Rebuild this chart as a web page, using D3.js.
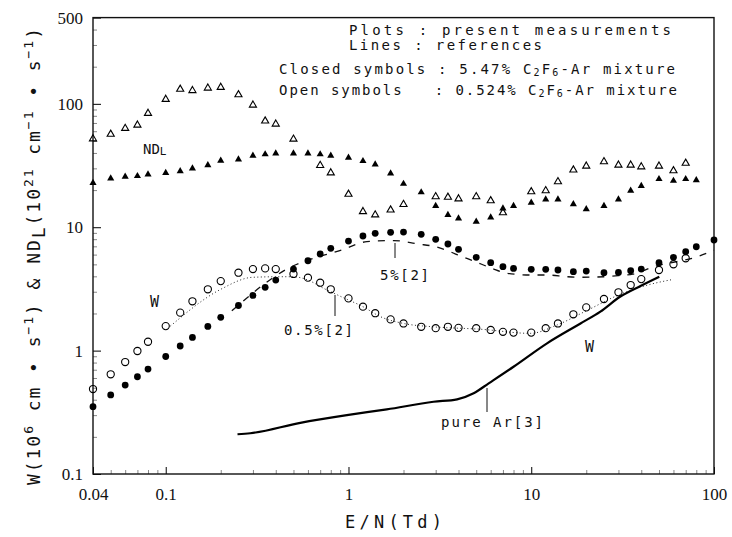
<!DOCTYPE html>
<html>
<head>
<meta charset="utf-8">
<script src="https://cdn.jsdelivr.net/npm/d3@7"></script>
<style>
  body { margin: 0; background: #fff; }
  text { fill: #111; white-space: pre; }
</style>
</head>
<body>
<svg></svg>
<script>
// E/N values (Td) for the measured points
const enAll = [0.04, 0.05, 0.06, 0.07, 0.08, 0.1, 0.12, 0.14, 0.17, 0.2, 0.25, 0.3, 0.35, 0.4, 0.5, 0.6, 0.7, 0.8,
  1, 1.2, 1.4, 1.7, 2, 2.5, 3, 3.5, 4, 5, 6, 7, 8, 10, 12, 14, 17, 20, 25, 30, 35, 40, 50, 60, 70, 80, 100];

// W, 5.47% mixture (closed circles)
const wClosed = [0.351, 0.437, 0.526, 0.614, 0.709, 0.896, 1.09, 1.28, 1.57, 1.86, 2.32, 2.80, 3.26, 3.73, 4.58, 5.35, 6.07, 6.75,
  7.73, 8.49, 8.93, 9.09, 9.14, 8.76, 7.98, 7.31, 6.62, 5.70, 5.16, 4.79, 4.64, 4.56, 4.56, 4.50, 4.36, 4.41, 4.28, 4.30, 4.44, 4.58,
  5.16, 5.70, 6.33, 6.95, 7.88];

// W, 0.524% mixture (open circles), E/N 0.04 .. 70
const wOpen = [0.488, 0.643, 0.808, 0.993, 1.18, 1.58, 2.03, 2.51, 3.14, 3.66, 4.28, 4.58, 4.64, 4.58, 4.18, 3.90, 3.55, 3.14,
  2.65, 2.27, 2.01, 1.79, 1.66, 1.56, 1.52, 1.56, 1.53, 1.52, 1.47, 1.42, 1.40, 1.40, 1.52, 1.66, 1.97, 2.24, 2.62, 2.97, 3.40, 3.80,
  4.50, 5.01, 5.60];

// ND_L, 5.47% mixture (closed triangles), E/N 0.04 .. 80
const ndlClosed = [22.9, 24.9, 25.7, 26.0, 26.8, 27.6, 28.5, 30.0, 31.9, 34.6, 35.5, 38.0, 39.0, 39.7, 39.7, 39.7, 39.0, 38.0,
  36.6, 34.4, 32.3, 27.3, 22.5, 19.2, 14.9, 12.6, 11.8, 11.1, 12.0, 14.2, 14.9, 15.8, 16.8, 16.8, 15.4, 14.0, 14.9, 16.8, 19.8, 21.6,
  24.6, 23.8, 24.6, 24.1];

// ND_L, 0.524% mixture (open triangles)
const ndlOpenEN = [0.04, 0.05, 0.06, 0.07, 0.08, 0.1, 0.12, 0.14, 0.17, 0.2, 0.25, 0.3, 0.35, 0.4, 0.5, 0.7, 0.8,
  1, 1.2, 1.4, 1.7, 2, 3, 3.5, 4, 5, 6, 7, 10, 12, 14, 17, 20, 25, 30, 35, 40, 50, 60, 70];
const ndlOpen = [52.1, 56.7, 63.3, 67.3, 83.8, 108.8, 131.3, 128.2, 134.3, 136.1, 118.5, 97.8, 72.6, 68.6, 51.8, 31.7, 27.6,
  18.5, 13.4, 12.6, 13.8, 15.3, 17.7, 17.5, 17.0, 17.7, 16.4, 13.1, 19.4, 19.8, 23.4, 29.1, 31.3, 34.0, 31.9, 31.9, 30.9, 31.3, 28.7, 33.0];

// reference curves
const ref05EN = [0.106, 0.2, 0.3, 0.42, 0.5, 0.6, 0.73, 0.94, 1.2, 1.5, 2, 2.9, 5.3, 9.9, 13.8, 20, 30, 45, 60];
const ref05W = [1.58, 3.14, 3.93, 3.97, 3.97, 3.73, 3.2, 2.68, 2.27, 1.88, 1.66, 1.56, 1.49, 1.38, 1.61, 2.1, 2.82, 3.45, 3.78];

const ref5EN = [0.23, 0.45, 0.94, 1.26, 1.77, 2.4, 3, 3.6, 4.1, 4.8, 6.1, 7.4, 9.9, 12.2, 15.7, 18.6, 25, 30, 36, 47, 81, 100];
const ref5W = [2.1, 4.5, 6.62, 7.64, 7.79, 7.31, 6.95, 6.33, 5.84, 5.35, 4.64, 4.23, 4.10, 4.10, 3.97, 3.93, 3.97, 4.05, 4.17, 4.79, 5.77, 6.5];

const arEN = [0.247, 0.29, 0.545, 0.98, 1.62, 2.92, 3.93, 4.84, 5.85, 8.0, 12.2, 18.6, 23.9, 30.6, 39.6, 50.2];
const arW = [0.21, 0.214, 0.26, 0.30, 0.334, 0.385, 0.403, 0.451, 0.543, 0.74, 1.146, 1.66, 2.07, 2.73, 3.34, 3.97];

// tick labels
const xTicks = [0.04, 0.1, 1, 10, 100];
const yTicks = [0.1, 1, 10, 100, 500];

// setup
const width = 732;
const height = 537;
const plotLeft = 93;
const plotRight = 714;
const plotTop = 17.6;
const plotBottom = 474;

const svg = d3.select('svg')
  .attr('width', width)
  .attr('height', height);

const xScale = d3.scaleLog().domain([0.04, 100]).range([plotLeft, plotRight]);
const yScale = d3.scaleLog().domain([0.1, 500]).range([plotBottom, plotTop]);

// minor ticks
const xMinor = [];
[0.01, 0.1, 1, 10].forEach(function (d) {
  for (let k = 2; k <= 9; k++) {
    const v = d * k;
    if (v > 0.04 && v < 100 && Math.abs(v - 0.1) > 1e-9) xMinor.push(v);
  }
});
const yMinor = [];
[0.1, 1, 10, 100].forEach(function (d) {
  for (let k = 2; k <= 9; k++) {
    const v = d * k;
    if (v < 500) yMinor.push(v);
  }
});

svg.append('g')
  .attr('transform', 'translate(0,' + plotBottom + ')')
  .call(d3.axisBottom(xScale).tickValues(xMinor).tickFormat('').tickSize(-4))
  .call(function (g) { g.select('.domain').remove(); g.selectAll('line').attr('stroke', '#888'); });

svg.append('g')
  .attr('transform', 'translate(' + plotLeft + ',0)')
  .call(d3.axisLeft(yScale).tickValues(yMinor).tickFormat('').tickSize(-4))
  .call(function (g) { g.select('.domain').remove(); g.selectAll('line').attr('stroke', '#888'); });

// axes
svg.append('g')
  .attr('transform', 'translate(0,' + plotBottom + ')')
  .call(d3.axisBottom(xScale).tickValues(xTicks).tickFormat(d3.format('')).tickSize(-7).tickPadding(14))
  .call(function (g) {
    g.select('.domain').remove();
    g.selectAll('text').attr('font-family', 'Liberation Serif, serif').attr('font-size', 17).attr('fill', '#111');
  });

svg.append('g')
  .attr('transform', 'translate(' + plotLeft + ',0)')
  .call(d3.axisLeft(yScale).tickValues(yTicks).tickFormat(d3.format('')).tickSize(-8).tickPadding(10))
  .call(function (g) {
    g.select('.domain').remove();
    g.selectAll('text').attr('font-family', 'Liberation Serif, serif').attr('font-size', 17).attr('fill', '#111');
  });

// frame
svg.append('rect')
  .attr('x', plotLeft)
  .attr('y', plotTop)
  .attr('width', plotRight - plotLeft)
  .attr('height', plotBottom - plotTop)
  .attr('fill', 'none')
  .attr('stroke', '#111')
  .attr('stroke-width', 1.4);

// reference lines
const line = d3.line()
  .x(function (d) { return xScale(d[0]); })
  .y(function (d) { return yScale(d[1]); })
  .curve(d3.curveMonotoneX);

svg.append('path')
  .attr('d', line(d3.zip(ref05EN, ref05W)))
  .attr('fill', 'none')
  .attr('stroke', '#222')
  .attr('stroke-width', 1)
  .attr('stroke-dasharray', '1,2.5');

svg.append('path')
  .attr('d', line(d3.zip(ref5EN, ref5W)))
  .attr('fill', 'none')
  .attr('stroke', '#111')
  .attr('stroke-width', 1.3)
  .attr('stroke-dasharray', '7,8');

svg.append('path')
  .attr('d', line(d3.zip(arEN, arW)))
  .attr('fill', 'none')
  .attr('stroke', '#000')
  .attr('stroke-width', 2.2);

// markers
const tri = d3.symbol(d3.symbolTriangle, 22);

svg.append('g').selectAll('path')
  .data(d3.zip(enAll, ndlClosed))
  .enter()
  .append('path')
  .attr('d', tri)
  .attr('fill', '#000')
  .attr('transform', function (d) { return 'translate(' + xScale(d[0]) + ',' + yScale(d[1]) + ')'; });

svg.append('g').selectAll('path')
  .data(d3.zip(ndlOpenEN, ndlOpen))
  .enter()
  .append('path')
  .attr('d', tri)
  .attr('fill', 'none')
  .attr('stroke', '#000')
  .attr('stroke-width', 1.1)
  .attr('transform', function (d) { return 'translate(' + xScale(d[0]) + ',' + yScale(d[1]) + ')'; });

svg.append('g').selectAll('circle')
  .data(d3.zip(enAll, wClosed))
  .enter()
  .append('circle')
  .attr('cx', function (d) { return xScale(d[0]); })
  .attr('cy', function (d) { return yScale(d[1]); })
  .attr('r', 3.4)
  .attr('fill', '#000');

svg.append('g').selectAll('circle')
  .data(d3.zip(enAll.slice(0, wOpen.length), wOpen))
  .enter()
  .append('circle')
  .attr('cx', function (d) { return xScale(d[0]); })
  .attr('cy', function (d) { return yScale(d[1]); })
  .attr('r', 3.6)
  .attr('fill', 'none')
  .attr('stroke', '#000')
  .attr('stroke-width', 1.1);

// text helpers (printer style fixed pitch font)
const mono = 'DejaVu Sans Mono, monospace';

function label(x, y, str, len, size) {
  const t = svg.append('text')
    .attr('x', x)
    .attr('y', y)
    .attr('font-family', mono)
    .attr('font-size', size || 14)
    .text(str);
  if (len) t.attr('textLength', len).attr('lengthAdjust', 'spacing');
  return t;
}

function leader(x, y1, y2) {
  svg.append('line')
    .attr('x1', x).attr('x2', x)
    .attr('y1', y1).attr('y2', y2)
    .attr('stroke', '#111')
    .attr('stroke-width', 1);
}

// legend text
label(349, 35, 'Plots : present measurements', 322, 14);
label(349, 50, 'Lines : references', 193, 14);

function mixture(y, head, pct, len) {
  const t = svg.append('text')
    .attr('x', 279)
    .attr('y', y)
    .attr('font-family', mono)
    .attr('font-size', 14)
    .attr('textLength', len)
    .attr('lengthAdjust', 'spacing');
  t.append('tspan').text(head + ': ' + pct + ' C');
  t.append('tspan').attr('font-size', 10).attr('dy', 2).text('2');
  t.append('tspan').attr('dy', -2).text('F');
  t.append('tspan').attr('font-size', 10).attr('dy', 2).text('6');
  t.append('tspan').attr('dy', -2).text('-Ar mixture');
}
mixture(74, 'Closed symbols ', '5.47%', 396);
mixture(95, 'Open symbols   ', '0.524%', 398);

// curve labels
const ndl = svg.append('text')
  .attr('x', 143)
  .attr('y', 154)
  .attr('font-family', mono)
  .attr('font-size', 14);
ndl.append('tspan').text('ND');
ndl.append('tspan').attr('font-size', 11).attr('dy', 1).text('L');

label(150, 307, 'W', null, 15);
label(585, 352, 'W', null, 15);
label(284, 335, '0.5%[2]', 69);
leader(335, 295, 316);
label(380, 280, '5%[2]', 49);
leader(395, 243, 258);
label(441, 427, 'pure Ar[3]', 102);
leader(487, 388, 412);

// axis titles
label(345, 528, 'E/N(Td)', 97, 17);

const yTitle = svg.append('text')
  .attr('transform', 'translate(40,485) rotate(-90)')
  .attr('font-family', mono)
  .attr('font-size', 18)
  .attr('textLength', 457)
  .attr('lengthAdjust', 'spacing');

const parts = [
  ['W(10', 0], ['6', -7], [' cm \u2022 s', 7], ['\u22121', -7], [') & ND', 7], ['L', 5], ['(10', -5],
  ['21', -7], [' cm', 7], ['\u22121', -7], [' \u2022 s', 7], ['\u22121', -7], [')', 7]
];
parts.forEach(function (p) {
  const small = p[0] === '6' || p[0] === '21' || p[0] === '\u22121';
  yTitle.append('tspan')
    .attr('dy', p[1])
    .attr('font-size', small ? 13 : 18)
    .text(p[0]);
});
</script>
</body>
</html>
